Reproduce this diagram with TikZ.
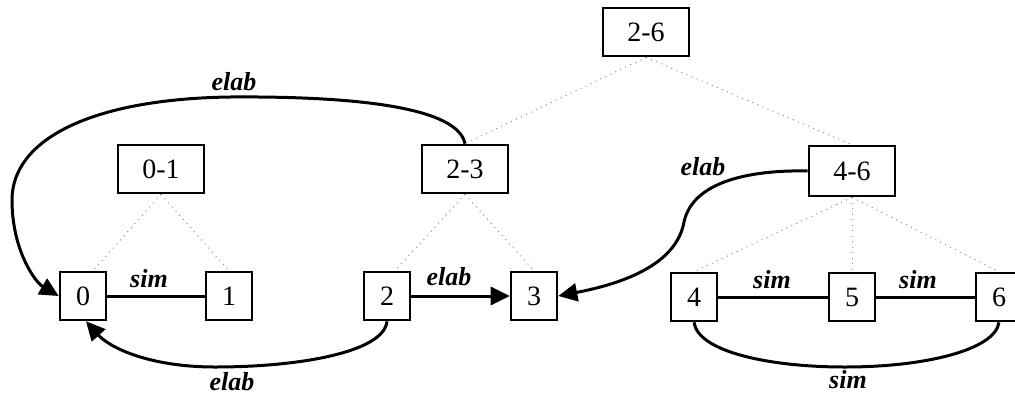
\documentclass[tikz,border=0pt]{standalone}
\usepackage{fontspec}
\setmainfont{Liberation Serif}
\usetikzlibrary{arrows.meta}
\begin{document}
\begin{tikzpicture}[x=1pt,y=-1pt,
  leaf/.style={draw, line width=2.6pt, minimum width=46pt, minimum height=48pt,
    inner sep=0pt, font=\fontsize{28}{32}\selectfont},
  spanbox/.style={leaf, minimum width=86pt},
  rel/.style={line width=3pt},
  relarrow/.style={rel, -{Triangle[length=19pt,width=18pt]}},
  tree/.style={black!45, line width=1pt, dash pattern=on 1pt off 4.5pt},
  lab/.style={font=\fontsize{26}{30}\selectfont\bfseries\itshape}]
\clip (0,0) rectangle (1015,397);
\useasboundingbox (0,0) rectangle (1015,397);

% discourse units
\node[leaf] (n0) at (83,296) {0};
\node[leaf] (n1) at (229,296) {1};
\node[leaf] (n2) at (387,296) {2};
\node[leaf] (n3) at (534,296) {3};
\node[leaf] (n4) at (694,297) {4};
\node[leaf] (n5) at (852,297) {5};
\node[leaf] (n6) at (999,297) {6};

% spans
\node[spanbox] (n01) at (161,169) {0-1};
\node[spanbox] (n23) at (465,169) {2-3};
\node[spanbox, minimum height=50pt] (n46) at (852,171) {4-6};
\node[spanbox] (n26) at (646,32) {2-6};

% tree structure
\draw[tree] (n26.south) -- (n23.north);
\draw[tree] (n26.south) -- (n46.north);
\draw[tree] (n01.south) -- ([xshift=10pt]n0.north);
\draw[tree] (n01.south) -- (n1.north);
\draw[tree] (n23.south) -- ([xshift=8pt]n2.north);
\draw[tree] (n23.south) -- (n3.north);
\draw[tree] (n46.south) -- (n4.north);
\draw[tree] (n46.south) -- (n5.north);
\draw[tree] (n46.south) -- (n6.north);

% rhetorical relations
\draw[rel] (n0) -- (n1);
\draw[relarrow] (n2) -- (n3);
\draw[rel] (n4) -- (n5);
\draw[rel] (n5) -- (n6);

\draw[relarrow] (n23.north) .. controls (458,108) and (360,96) .. (230,97)
  .. controls (90,99) and (12,140) .. (12,200)
  .. controls (12,250) and (35,282) .. (n0.west);
\draw[relarrow] (n2.south) .. controls (384,352) and (300,367) .. (215,367)
  .. controls (150,367) and (110,348) .. ([xshift=3pt]n0.south);
\draw[relarrow] (n46.west) .. controls (765,170) and (694,176) .. (684,222)
  .. controls (676,266) and (620,284) .. (n3.east);
\draw[rel] (n4.south) .. controls (698,352) and (770,367) .. (845,367)
  .. controls (925,367) and (995,350) .. (n6.south);

% relation labels
\node[lab] (l1) at (234,82) {elab};
\node[lab] (l2) at (149,279) {sim};
\node[lab] (l3) at (449,277) {elab};
\node[lab] (l4) at (232,382) {elab};
\node[lab] (l5) at (703,167) {elab};
\node[lab] (l6) at (772,280) {sim};
\node[lab] (l7) at (918,280) {sim};
\node[lab] (l8) at (848,380) {sim};
\end{tikzpicture}
\end{document}
